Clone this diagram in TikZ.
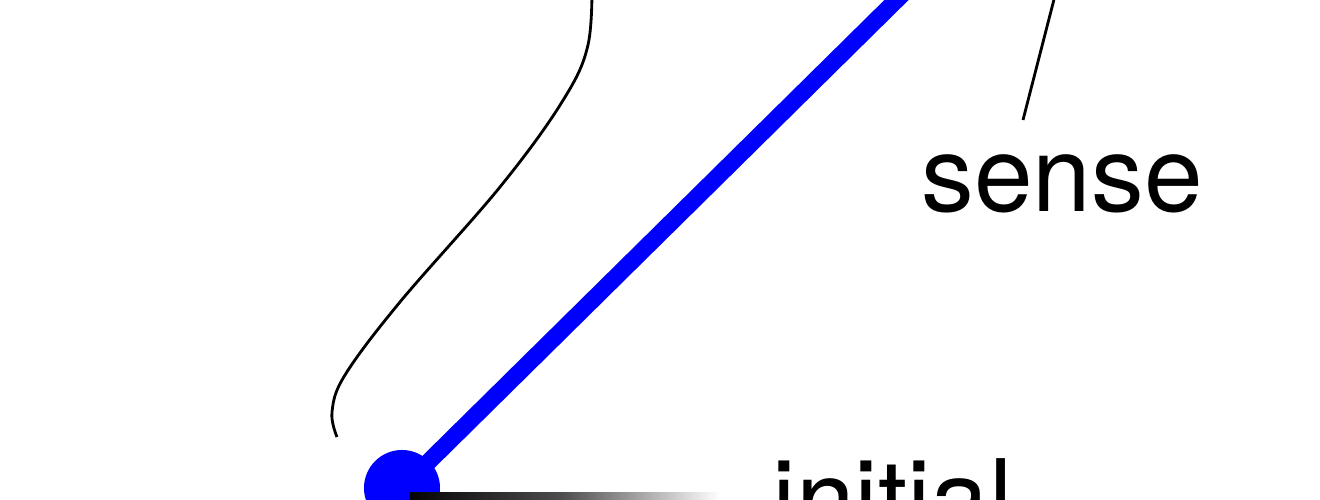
\documentclass[tikz,border=0pt]{standalone}
\usepackage{fontspec}
\setmainfont{TeX Gyre Heros}
\usetikzlibrary{positioning,calc}
\tikzset{
  vecline/.style={draw=blue, line width=0.17cm},
  vecdot/.style={circle, fill=blue, minimum size=0.76cm, inner sep=0pt},
  leader/.style={draw=black, line width=0.8pt},
  lbltext/.style={font=\fontsize{30}{36}\selectfont, inner sep=0pt},
}

\begin{document}
\begin{tikzpicture}[x=0.01cm, y=0.01cm]
  \useasboundingbox (0,0) rectangle (1320,500);
  \clip (0,0) rectangle (1320,500);

  \node[vecdot] (start) at (402,12) {};
  \coordinate (tip) at (935,538);
  \node[lbltext, anchor=base] (sense) at (1062,288) {sense};
  \node[lbltext, anchor=base west] (initial) at (772,-36) {initial};

  % shaded edge leaving the start point
  \shade[left color=black, right color=white, middle color=black!70] (start.center) ++(8,-12) rectangle (720,7);
  \draw[vecline] (start.center) -- (tip);

  % leaders
  \coordinate (brace-a) at (337,63);
  \coordinate (brace-b) at (592,525);
  \draw[leader] plot[smooth, tension=0.6] coordinates {(brace-a) (332,88) (345,125) (400,198) (500,313) (562,398) (588,455) (brace-b)};
  \coordinate (sense-a) at (1023,380);
  \coordinate (sense-b) at (1059,520);
  \draw[leader] (sense-a) -- (sense-b);
\end{tikzpicture}
\end{document}
